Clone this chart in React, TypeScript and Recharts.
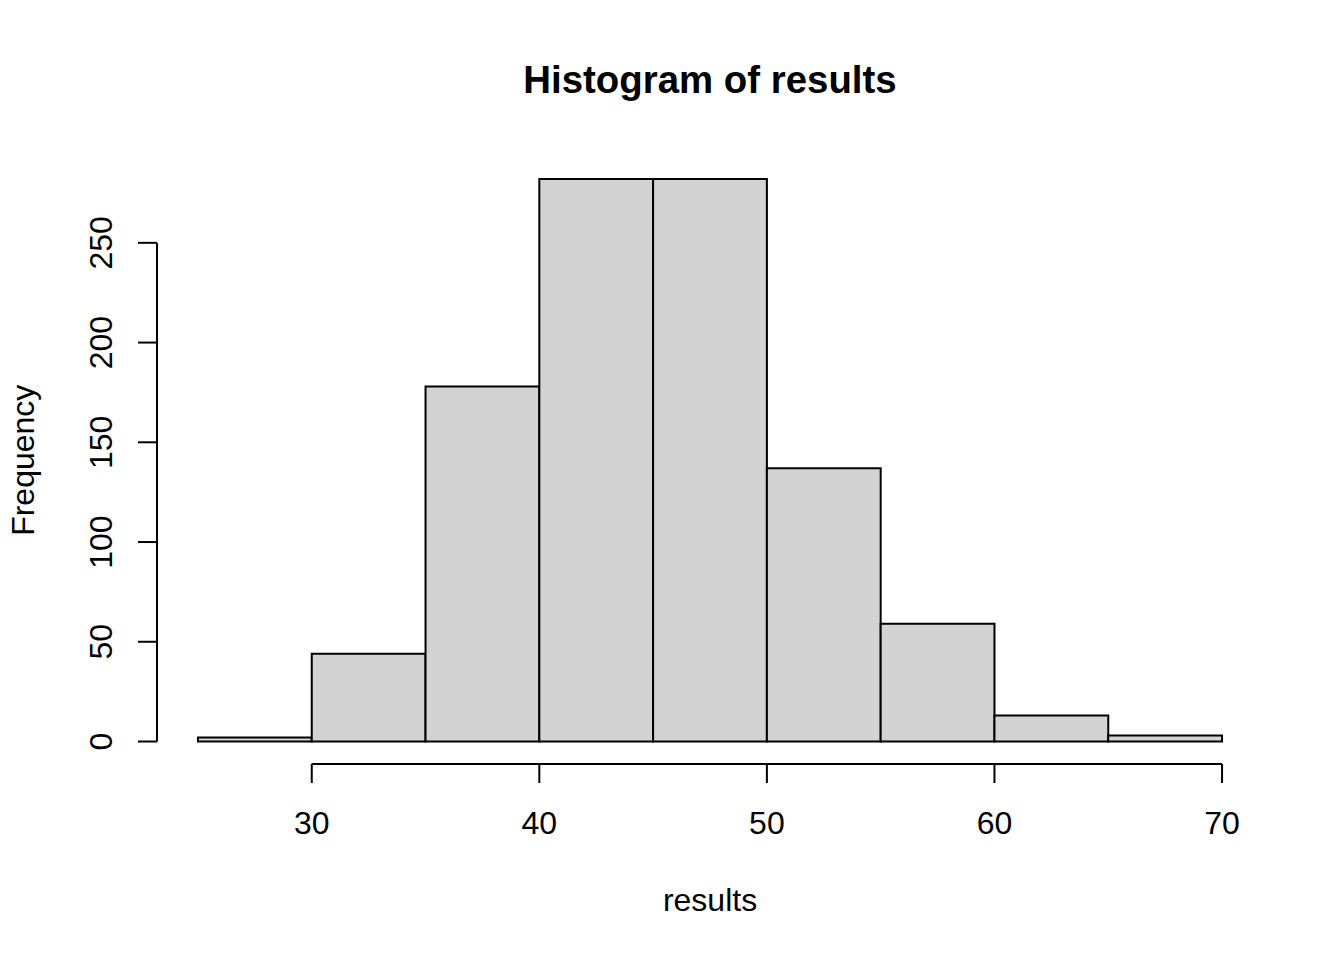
import React from 'react';
import { ComposedChart, XAxis, YAxis, ReferenceArea, ReferenceLine } from 'recharts';

const binStarts = [25, 30, 35, 40, 45, 50, 55, 60, 65];
const binEnds = [30, 35, 40, 45, 50, 55, 60, 65, 70];
const counts = [2, 44, 178, 282, 282, 137, 59, 13, 3];
const xTicks = [30, 40, 50, 60, 70];
const yTicks = [0, 50, 100, 150, 200, 250];

const FONT = '"Liberation Sans", Arial, sans-serif';

const data = binStarts.map((s, i) => ({ lo: s, hi: binEnds[i], mid: (s + binEnds[i]) / 2, count: counts[i] }));

// R-style extended ranges (4% padding)
const xMin = 25, xMax = 70;
const xPad = (xMax - xMin) * 0.04;
const yMaxData = Math.max(...counts);
const yPad = yMaxData * 0.04;
const xDomain = [xMin - xPad, xMax + xPad];
const yDomain = [-yPad, yMaxData + yPad];

const XTick = (props: any) => {
  const { x, y, payload } = props;
  return (
    <text x={x} y={y} dy="0.71em" textAnchor="middle" fontFamily={FONT} fontSize={32} fill="#000">
      {payload.value}
    </text>
  );
};

const YTick = (props: any) => {
  const { x, y, payload } = props;
  return (
    <text x={x} y={y} transform={`rotate(-90 ${x} ${y})`} textAnchor="middle" fontFamily={FONT} fontSize={32} fill="#000">
      {payload.value}
    </text>
  );
};

const YLabel = (props: any) => {
  const vb = props.viewBox;
  const x = vb.x + 34;
  const y = vb.y + vb.height / 2;
  return (
    <text x={x} y={y} transform={`rotate(-90 ${x} ${y})`} textAnchor="middle" fontFamily={FONT} fontSize={32} fill="#000">
      Frequency
    </text>
  );
};

const XLabel = (props: any) => {
  const vb = props.viewBox;
  return (
    <text x={vb.x + vb.width / 2} y={vb.y + 147} textAnchor="middle" fontFamily={FONT} fontSize={32} fill="#000">
      results
    </text>
  );
};

export default function App() {
  return (
    <div style={{ position: 'absolute', left: 0, top: 0, width: 1344, height: 960, background: '#fff' }}>
      <ComposedChart
        width={1344}
        height={960}
        data={data}
        margin={{ top: 156.5, right: 81, bottom: 0, left: 0 }}
      >
        <XAxis
          dataKey="mid"
          type="number"
          domain={xDomain}
          allowDataOverflow
          ticks={xTicks}
          axisLine={false}
          tickLine={{ stroke: '#000', strokeWidth: 2 }}
          tickSize={19}
          tickMargin={28}
          tick={<XTick />}
          height={196}
          interval={0}
          label={<XLabel />}
        />
        <YAxis
          type="number"
          domain={yDomain}
          allowDataOverflow
          ticks={yTicks}
          axisLine={false}
          tickLine={{ stroke: '#000', strokeWidth: 2 }}
          tickSize={19}
          tickMargin={26}
          tick={<YTick />}
          width={157}
          interval={0}
          label={<YLabel />}
        />
        {data.map((d, i) => (
          <ReferenceArea
            key={i}
            x1={d.lo}
            x2={d.hi}
            y1={0}
            y2={d.count}
            fill="#d3d3d3"
            fillOpacity={1}
            stroke="#000"
            strokeWidth={2}
            ifOverflow="visible"
          />
        ))}
        <ReferenceLine
          segment={[{ x: xTicks[0], y: yDomain[0] }, { x: xTicks[xTicks.length - 1], y: yDomain[0] }]}
          stroke="#000"
          strokeWidth={2}
          ifOverflow="visible"
        />
        <ReferenceLine
          segment={[{ x: xDomain[0], y: yTicks[0] }, { x: xDomain[0], y: yTicks[yTicks.length - 1] }]}
          stroke="#000"
          strokeWidth={2}
          ifOverflow="visible"
        />
      </ComposedChart>
      <svg width={1344} height={960} style={{ position: 'absolute', left: 0, top: 0, pointerEvents: 'none' }}>
        <text x={710} y={93} textAnchor="middle" fontFamily={FONT} fontWeight="bold" fontSize={38.4} fill="#000">
          Histogram of results
        </text>
      </svg>
    </div>
  );
}
